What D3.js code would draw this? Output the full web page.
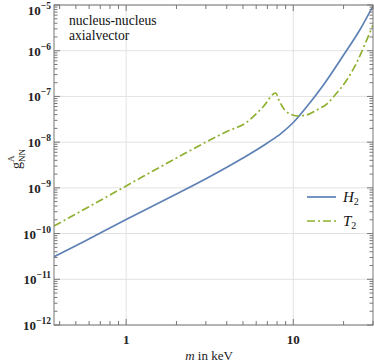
<!DOCTYPE html>
<html><head><meta charset="utf-8">
<script src="https://cdn.jsdelivr.net/npm/d3@7"></script>
<style>
body{margin:0;background:#fff}
svg text{font-family:"Liberation Serif","Times New Roman",serif;}
</style></head>
<body><svg id="c" width="374" height="363"></svg>
<script>
// Data
const massH2 = [0.37, 0.5, 0.7, 1, 2, 3, 5, 7, 8.5, 10, 12, 15, 20, 25, 30];
const gH2 = [3.1e-11, 5.4e-11, 1.03e-10, 2.03e-10, 7.3e-10, 1.58e-9, 4.5e-9, 9.6e-9, 1.58e-8, 2.69e-8, 5.87e-8, 1.69e-7, 8.05e-7, 2.84e-6, 9.5e-6];
const massT2 = [0.37, 0.5, 1, 2, 3.17, 4, 5.28, 6.58, 7.86, 8.2, 8.9, 9.9, 10.6, 12, 13.8, 15.85, 18.2, 20.9, 23.9, 27.5, 30];
const gT2 = [1.46e-10, 2.68e-10, 1.1e-9, 4.5e-9, 1.11e-8, 1.7e-8, 2.75e-8, 5.87e-8, 1.19e-7, 8.35e-8, 5.05e-8, 3.93e-8, 3.73e-8, 3.93e-8, 5.05e-8, 6.82e-8, 1.19e-7, 2.29e-7, 5.38e-7, 1.71e-6, 3.65e-6];
const seriesNames = ["H", "T"];
const xMajor = [1, 10];
const yExponents = [-12, -11, -10, -9, -8, -7, -6, -5];
const annotation = ["nucleus-nucleus", "axialvector"];

const svg = d3.select("#c");
const L = 54, R = 373, T = 5, B = 325;
const x = d3.scaleLog().domain([0.37, 30]).range([L, R]);
const y = d3.scaleLog().domain([1e-12, 1e-5]).range([B, T]);
const axisCol = "#777", gridCol = "#e2e2e2";
const blue = "#5E81B5", green = "#8FB131";

// gridlines
svg.append("g").selectAll("line").data(xMajor).join("line")
  .attr("x1", d => x(d)).attr("x2", d => x(d)).attr("y1", T).attr("y2", B)
  .attr("stroke", gridCol).attr("stroke-width", 1);
svg.append("g").selectAll("line").data(yExponents).join("line")
  .attr("x1", L).attr("x2", R).attr("y1", e => y(Math.pow(10, e))).attr("y2", e => y(Math.pow(10, e)))
  .attr("stroke", gridCol).attr("stroke-width", 1);

// curves
svg.append("clipPath").attr("id", "clp").append("rect")
  .attr("x", L).attr("y", T).attr("width", R - L).attr("height", B - T);
const line = d3.line().x(d => x(d[0])).y(d => y(d[1])).curve(d3.curveMonotoneX);
svg.append("path").datum(d3.zip(massH2, gH2)).attr("d", line)
  .attr("fill", "none").attr("stroke", blue).attr("stroke-width", 1.7).attr("clip-path", "url(#clp)");
svg.append("path").datum(d3.zip(massT2, gT2)).attr("d", line)
  .attr("fill", "none").attr("stroke", green).attr("stroke-width", 1.7)
  .attr("stroke-dasharray", "8,3,2,3").attr("clip-path", "url(#clp)");

// axes (ticks inward)
const xMinor = [];
for (let dec of [0.1, 1, 10]) for (let k = 1; k <= 9; k++) { const v = +(k * dec).toPrecision(3); if (v >= 0.37 && v <= 30 && !xMajor.includes(v)) xMinor.push(v); }
const yMinor = [];
for (let e = -12; e < -5; e++) for (let k = 2; k <= 9; k++) yMinor.push(k * Math.pow(10, e));

const ax = svg.append("g").attr("stroke", axisCol).attr("stroke-width", 1);
const xt4 = xMajor.map(v => [v, 6]).concat(xMinor.map(v => [v, 4]));
ax.selectAll("line.xb").data(xt4).join("line").attr("class", "xb")
  .attr("x1", d => x(d[0])).attr("x2", d => x(d[0])).attr("y1", B).attr("y2", d => B - d[1]);
ax.selectAll("line.xt").data(xt4).join("line").attr("class", "xt")
  .attr("x1", d => x(d[0])).attr("x2", d => x(d[0])).attr("y1", T).attr("y2", d => T + d[1]);
const yt = yExponents.map(e => [Math.pow(10, e), 6]).concat(yMinor.map(v => [v, 3.5]));
ax.selectAll("line.yl").data(yt).join("line").attr("class", "yl")
  .attr("x1", L).attr("x2", d => L + d[1]).attr("y1", d => y(d[0])).attr("y2", d => y(d[0]));
ax.selectAll("line.yr").data(yt).join("line").attr("class", "yr")
  .attr("x1", R).attr("x2", d => R - d[1]).attr("y1", d => y(d[0])).attr("y2", d => y(d[0]));
svg.append("rect").attr("x", L).attr("y", T).attr("width", R - L).attr("height", B - T)
  .attr("fill", "none").attr("stroke", axisCol).attr("stroke-width", 1);

// tick labels
svg.append("g").selectAll("text").data(xMajor).join("text")
  .attr("x", d => x(d)).attr("y", B + 19).attr("text-anchor", "middle")
  .attr("font-size", 13).attr("font-weight", "bold").attr("fill", "#222").text(d => d);
const yl = svg.append("g").selectAll("text").data(yExponents).join("text")
  .attr("x", L - 3).attr("y", e => Math.max(y(Math.pow(10, e)) + 5, 15)).attr("text-anchor", "end")
  .attr("font-size", 13).attr("font-weight", "bold").attr("fill", "#222");
yl.append("tspan").text("10");
yl.append("tspan").attr("dy", -6).attr("font-size", 9.5).text(e => "\u2212" + Math.abs(e));

// axis titles
const xt = svg.append("text").attr("x", 209).attr("y", 360).attr("text-anchor", "middle")
  .attr("font-size", 13).attr("fill", "#222");
xt.append("tspan").attr("font-style", "italic").text("m");
xt.append("tspan").text(" in keV");
const ytl = svg.append("text").attr("transform", "translate(21,169) rotate(-90)")
  .attr("text-anchor", "start").attr("font-size", 14).attr("fill", "#222");
ytl.append("tspan").text("g");
ytl.append("tspan").attr("font-size", 9).attr("dy", -7).text("A");
ytl.append("tspan").attr("font-size", 9).attr("dx", -6.5).attr("dy", 11).text("NN");

// annotation
svg.append("g").selectAll("text").data(annotation).join("text")
  .attr("x", 69).attr("y", (d, i) => 25 + i * 15).attr("font-size", 13.6).attr("fill", "#111").text(d => d);

// legend
const legY = [197, 221];
const lg = svg.append("g");
lg.append("line").attr("x1", 307).attr("x2", 336).attr("y1", legY[0]).attr("y2", legY[0])
  .attr("stroke", blue).attr("stroke-width", 1.7);
lg.append("line").attr("x1", 307).attr("x2", 336).attr("y1", legY[1]).attr("y2", legY[1])
  .attr("stroke", green).attr("stroke-width", 1.7).attr("stroke-dasharray", "8,3,2,3");
const lt = lg.selectAll("text").data(seriesNames).join("text")
  .attr("x", 343).attr("y", (d, i) => legY[i] + 5).attr("font-size", 15).attr("fill", "#111");
lt.append("tspan").attr("font-style", "italic").text(d => d);
lt.append("tspan").attr("font-size", 10).attr("dy", 3).text("2");
</script></body></html>
